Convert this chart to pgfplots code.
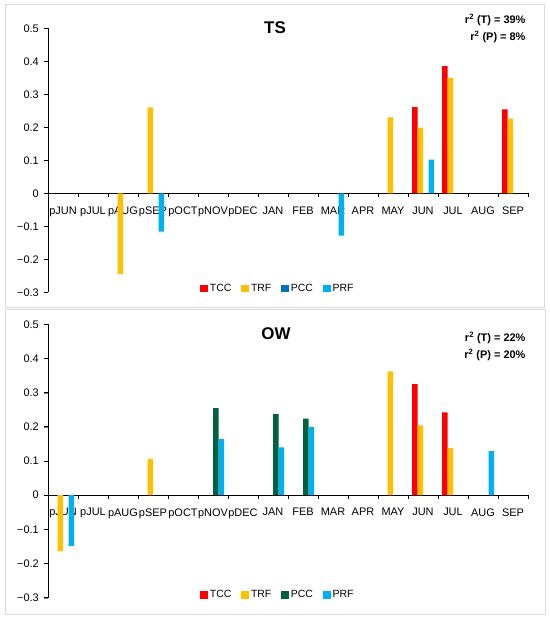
\documentclass[border=0pt]{standalone}
\usepackage{fontspec}
\setmainfont{Liberation Sans}
\usepackage{pgfplots}
\pgfplotsset{compat=1.18}
\definecolor{tcc}{RGB}{255,0,0}
\definecolor{trf}{RGB}{255,192,0}
\definecolor{pccb}{RGB}{0,112,192}
\definecolor{pccg}{RGB}{0,97,62}
\definecolor{prf}{RGB}{0,176,240}
\definecolor{boxgray}{RGB}{217,217,217}
\pgfplotsset{
  sq/.style={legend image code/.code={\fill[##1] (0bp,-3.8bp) rectangle (7.6bp,3.8bp);}},
  panel/.style={
    scale only axis, width=480bp,
    xmin=-0.5, xmax=15.5, ymin=-0.3, ymax=0.5,
    ybar=0pt, bar width=5.5bp,
    axis y line=left, axis x line=middle,
    axis line style={-, black, line width=0.9bp},
    hide obscured x ticks=false, hide obscured y ticks=false,
    ytick={-0.3,-0.2,-0.1,0,0.1,0.2,0.3,0.4,0.5},
    yticklabels={−0.3,−0.2,−0.1,0,0.1,0.2,0.3,0.4,0.5},
    xtick={0.5,1.5,...,15.5},
    xticklabels={pJUN,pJUL,pAUG,pSEP,pOCT,pNOV,pDEC,JAN,FEB,MAR,APR,MAY,JUN,JUL,AUG,SEP},
    xticklabel style={xshift=-15bp, yshift=-9bp, font=\fontsize{11}{13}\selectfont, inner sep=0pt},
    yticklabel style={font=\fontsize{11}{13}\selectfont, inner sep=0pt, xshift=-5bp},
    xtick align=outside, ytick align=outside, major tick length=4bp,
    legend columns=4,
    legend style={draw=none, fill=none, font=\fontsize{10.5}{12}\selectfont,
      /tikz/every even column/.append style={column sep=8bp}, inner sep=0pt},
    clip=false,
  },
  myticks/.code={
    \pgfplotsinvokeforeach{0.5,1.5,2.5,3.5,4.5,5.5,6.5,7.5,8.5,9.5,10.5,11.5,12.5,13.5,14.5,15.5}{
      \draw[black, line width=1bp] (axis cs:##1,0) -- ([yshift=-4bp]axis cs:##1,0);}
    \pgfplotsinvokeforeach{-0.3,-0.2,-0.1,0,0.1,0.2,0.3,0.4,0.5}{
      \draw[black, line width=1bp] (axis cs:-0.5,##1) -- ([xshift=-4bp]axis cs:-0.5,##1);}
  }
}
\begin{document}
\begin{tikzpicture}[x=1bp,y=1bp]
\useasboundingbox (0,0) rectangle (550,620);
\draw[boxgray, line width=1bp] (5,312) rectangle (544,615);
\draw[boxgray, line width=1bp] (5,5) rectangle (545,310);
% ---------------- TS ----------------
\begin{axis}[panel, height=264bp, at={(48bp,327.7bp)}, anchor=south west,
  legend style={at={(0.479,0.015)}, anchor=center}]
\addplot[fill=tcc, draw=none, bar shift=-8.25bp, sq] coordinates {(12,0.261) (13,0.385) (15,0.254)};
\addlegendentry{TCC}
\addplot[fill=trf, draw=none, bar shift=-2.75bp, sq] coordinates {(2,-0.245) (3,0.260) (11,0.230) (12,0.199) (13,0.350) (15,0.226)};
\addlegendentry{TRF}
\addlegendimage{fill=pccb, draw=none, sq}
\addlegendentry{PCC}
\addplot[fill=prf, draw=none, bar shift=8.25bp, sq] coordinates {(3,-0.116) (9,-0.128) (12,0.102)};
\addlegendentry{PRF}
\pgfplotsset{myticks}
\end{axis}
\node[font=\bfseries\fontsize{17}{19}\selectfont] at (275,592) {TS};
\node[font=\bfseries\fontsize{11}{13}\selectfont, anchor=east] at (529,600) {r\textsuperscript{2} (T) = 39\%};
\node[font=\bfseries\fontsize{11}{13}\selectfont, anchor=east] at (529,583) {r\textsuperscript{2} (P) = 8\%};
% ---------------- OW ----------------
\begin{axis}[panel, height=273.4bp, at={(48bp,22.3bp)}, anchor=south west,
  legend style={at={(0.479,0.01)}, anchor=center}]
\addplot[fill=tcc, draw=none, bar shift=-8.25bp, sq] coordinates {(12,0.325) (13,0.242)};
\addlegendentry{TCC}
\addplot[fill=trf, draw=none, bar shift=-2.75bp, sq] coordinates {(0,-0.164) (3,0.106) (11,0.362) (12,0.204) (13,0.138)};
\addlegendentry{TRF}
\addplot[fill=pccg, draw=none, bar shift=2.75bp, sq] coordinates {(5,0.255) (7,0.237) (8,0.224)};
\addlegendentry{PCC}
\addplot[fill=prf, draw=none, bar shift=8.25bp, sq] coordinates {(0,-0.149) (5,0.164) (7,0.140) (8,0.200) (14,0.129)};
\addlegendentry{PRF}
\pgfplotsset{myticks}
\end{axis}
\node[font=\bfseries\fontsize{17}{19}\selectfont] at (276,286) {OW};
\node[font=\bfseries\fontsize{11}{13}\selectfont, anchor=east] at (529,282) {r\textsuperscript{2} (T) = 22\%};
\node[font=\bfseries\fontsize{11}{13}\selectfont, anchor=east] at (529,265) {r\textsuperscript{2} (P) = 20\%};
\end{tikzpicture}
\end{document}
